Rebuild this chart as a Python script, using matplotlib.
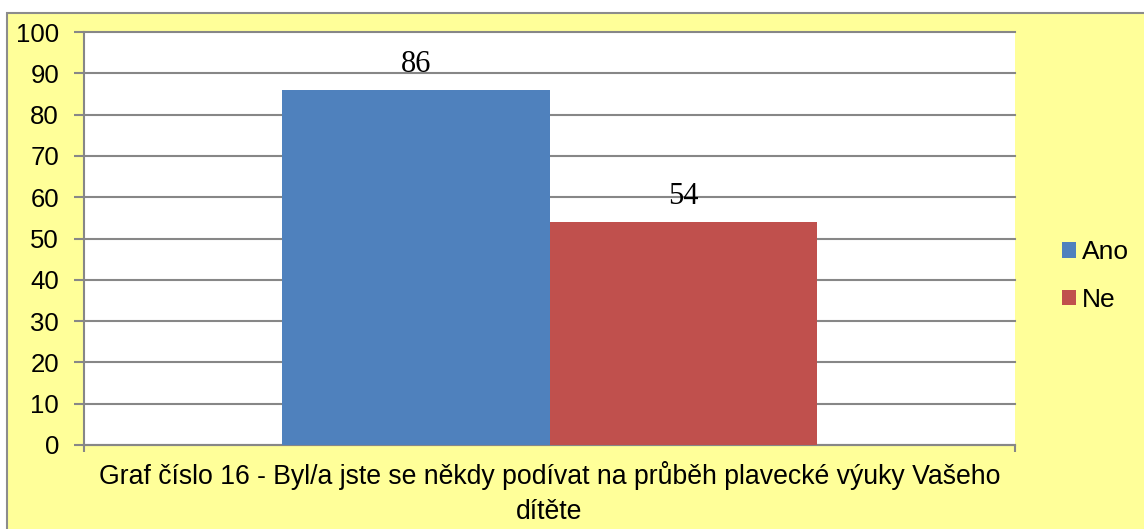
import matplotlib.pyplot as plt
import matplotlib.patches as patches
import matplotlib.transforms as mtransforms

series = ["Ano", "Ne"]
values = [86, 54]
colors = ["#4F81BD", "#C0504D"]
category = "Graf číslo 16 - Byl/a jste se někdy podívat na průběh plavecké výuky Vašeho\ndítěte"
yticks = list(range(0, 101, 10))

W, H = 1144, 529
fig = plt.figure(figsize=(W / 100, H / 100), dpi=100, facecolor="white")

# yellow chart area with grey border (only top/left edges visible)
bg = patches.Rectangle((7 / W, -0.1), 1.2, 1 - 13 / H + 0.1, transform=fig.transFigure,
                       facecolor="#FFFF99", edgecolor="#8C8C8C", linewidth=1.5, zorder=-10)
fig.add_artist(bg)

ax = fig.add_axes([84 / W, 1 - 445 / H, (1015 - 84) / W, (445 - 32) / H])
ax.set_facecolor("white")

half = 931 / 267 / 2
ax.set_xlim(-half, half)
ax.set_ylim(0, 100)

for i, (name, v, c) in enumerate(zip(series, values, colors)):
    x = -0.5 + i
    ax.bar(x, v, width=1.0, color=c, label=name, zorder=3)
    ax.text(x, v + 4.3, str(v), ha="center", va="baseline", fontsize=22,
            family="Liberation Serif", zorder=4)

ax.set_yticks(yticks)
ax.set_yticklabels([str(t) for t in yticks], fontsize=18.5, family="Liberation Sans")
for t in yticks:
    ax.axhline(t, color="#878787", linewidth=1.5, zorder=1, clip_on=False)

ax.set_xticks([-half, half])
ax.set_xticklabels(["", ""])
ax.tick_params(axis="y", length=7, width=1.5, color="#878787", pad=11)
ax.tick_params(axis="x", length=5, width=1.5, color="#878787")
for s in ["top", "right"]:
    ax.spines[s].set_visible(False)
for s in ["left", "bottom"]:
    ax.spines[s].set_color("#878787")
    ax.spines[s].set_linewidth(1.5)

# category name under the axis; baseline refers to the last line
trans = mtransforms.blended_transform_factory(ax.transData, fig.transFigure)
ax.text(0, 1 - 519 / H, category, transform=trans, ha="center", va="baseline",
        multialignment="center", fontsize=19.2, family="Liberation Sans", linespacing=1.45)

leg = ax.legend(loc="center left", bbox_to_anchor=(1038 / W, 1 - 276 / H),
                bbox_transform=fig.transFigure, frameon=False,
                prop={"family": "Liberation Sans", "size": 19},
                handlelength=0.55, handleheight=0.55, handletextpad=0.2, labelspacing=0.9)

fig.savefig("out.png", dpi=100, facecolor="white")
